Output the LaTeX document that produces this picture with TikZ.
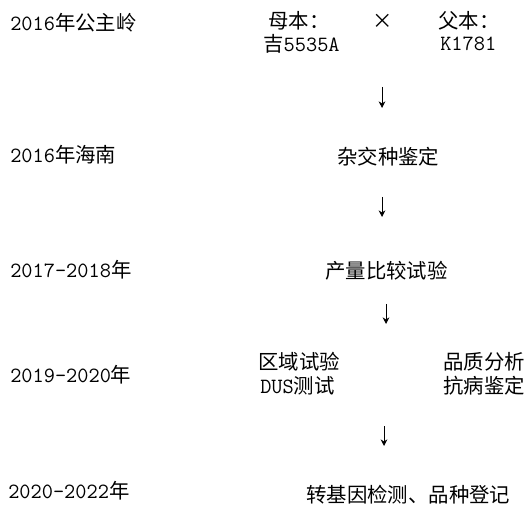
\documentclass[tikz,border=0pt]{standalone}
\usepackage{fontspec}
\newfontfamily\cjk{Noto Sans CJK SC}
\usetikzlibrary{arrows.meta}
\newcommand\zh[1]{{\cjk\fontsize{15.3}{18}\selectfont #1}}
\tikzset{
  lbl/.style={anchor=west, inner sep=0pt, font=\ttfamily\fontsize{16.3}{18}\selectfont},
  flow/.style={-{Stealth[length=5pt,width=5pt]}, line width=0.7pt, black}
}
\begin{document}
\begin{tikzpicture}[x=0.75pt,y=-0.75pt]
\useasboundingbox (0,0) rectangle (531,505);
% year column
\node[lbl] (y1) at (10,23) {2016\zh{年公主岭}};
\node[lbl] (y2) at (10,155) {2016\zh{年海南}};
\node[lbl] (y3) at (10,270) {2017-2018\zh{年}};
\node[lbl] (y4) at (10,375) {2019-2020\zh{年}};
\node[lbl] (y5) at (8,491) {2020-2022\zh{年}};
% row 1
\node[lbl] (mu) at (268,21) {\zh{母本：}};
\node[lbl, anchor=center] (x) at (383,21) {\zh{×}};
\node[lbl] (fu) at (438,21) {\zh{父本：}};
\node[lbl] (mu2) at (263,44) {\zh{吉}5535A};
\node[lbl] (fu2) at (440,44) {K1781};
% steps
\node[lbl] (s2) at (337,157) {\zh{杂交种鉴定}};
\node[lbl] (s3) at (325,271) {\zh{产量比较试验}};
\node[lbl] (s4a) at (258,362) {\zh{区域试验}};
\node[lbl] (s4b) at (260,386) {DUS\zh{测试}};
\node[lbl] (s4c) at (443,362) {\zh{品质分析}};
\node[lbl] (s4d) at (443,386) {\zh{抗病鉴定}};
\node[lbl] (s5) at (306,495) {\zh{转基因检测、品种登记}};
% arrows
\coordinate (a1s) at (382,87);  \coordinate (a1e) at (382,108);
\coordinate (a2s) at (382,197); \coordinate (a2e) at (382,217);
\coordinate (a3s) at (386,304); \coordinate (a3e) at (386,324);
\coordinate (a4s) at (384,426); \coordinate (a4e) at (384,446);
\draw[flow] (a1s) -- (a1e);
\draw[flow] (a2s) -- (a2e);
\draw[flow] (a3s) -- (a3e);
\draw[flow] (a4s) -- (a4e);
\end{tikzpicture}
\end{document}
